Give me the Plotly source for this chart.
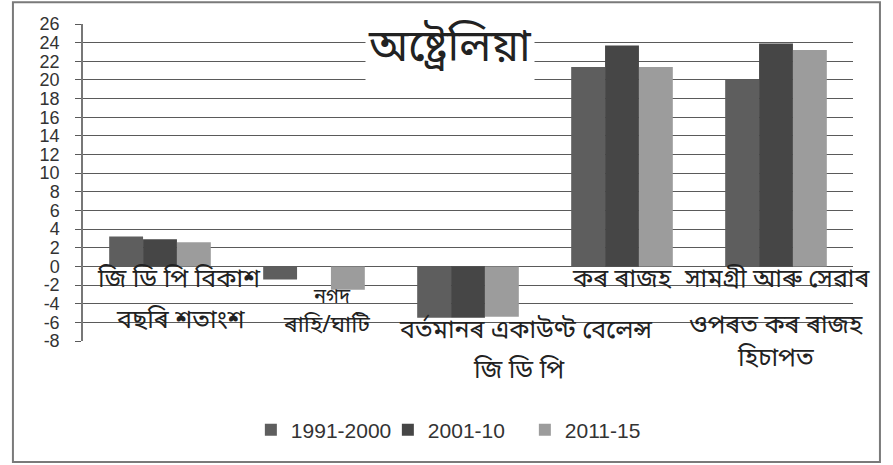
import plotly.graph_objects as go

# categories (x-axis groups)
categories = ["GDP", "CASH", "CAB", "TAX", "GST"]

# series values
series_names = ["1991-2000", "2001-10", "2011-15"]
vals_1991_2000 = [3.2, -1.4, -5.5, 21.4, 20.0]
vals_2001_10 = [2.9, None, -5.5, 23.7, 23.9]
vals_2011_15 = [2.6, -2.5, -5.4, 21.4, 23.2]

# y ticks (hyphen minus as in the source)
tick_vals = list(range(-8, 27, 2))
tick_text = [str(v) for v in tick_vals]

# category label text (Assamese), one entry per printed line
label_cats = ["GDP", "GDP", "CASH", "CASH", "CAB", "CAB", "TAX", "GST", "GST", "GST"]
label_text = ["জি ডি পি বিকাশ", "বছৰি শতাংশ", "নগদ", "ৰাহি/ঘাটি",
              "বৰ্তমানৰ একাউণ্ট বেলেন্স", "জি ডি পি", "কৰ ৰাজহ",
              "সামগ্ৰী আৰু সেৱাৰ", "ওপৰত কৰ ৰাজহ", "হিচাপত"]
title_text = "অষ্ট্ৰেলিয়া"

# placement of each label line: (paper y, x shift px, font size)
label_place = [(0.190, 19, 25), (0.060, 20, 25), (0.135, 18, 20), (0.046, 12, 23),
               (0.030, 57, 25), (-0.097, 51, 25), (0.190, 0, 25),
               (0.190, 1, 25), (0.047, 0, 25), (-0.057, -1, 25)]

colors = ["#5e5e5e", "#464646", "#9c9c9c"]
bn_font = "Noto Sans Bengali, Lohit Assamese, Lohit Bengali, Noto Sans, sans-serif"

fig = go.Figure()
for name, vals, c in zip(series_names, [vals_1991_2000, vals_2001_10, vals_2011_15], colors):
    fig.add_trace(go.Bar(x=categories, y=vals, name=name, marker=dict(color=c, line=dict(width=0))))

for cat, txt, (yp, dx, fs) in zip(label_cats, label_text, label_place):
    fig.add_annotation(x=cat, y=yp, xref="x", yref="paper", text=txt, showarrow=False,
                       xanchor="center", yanchor="middle", xshift=dx,
                       font=dict(family=bn_font, size=fs, color="#222"))

# title
fig.add_annotation(x=0.477, y=0.918, xref="paper", yref="paper", text=title_text,
                   showarrow=False, xanchor="center", yanchor="middle",
                   bgcolor="white", borderpad=2,
                   font=dict(family=bn_font, size=44, color="#222"))

# outer frame
fig.add_shape(type="rect", xref="paper", yref="paper", x0=-0.091, x1=1.035, y0=-0.382, y1=1.069,
              line=dict(color="#7a7a7a", width=2))

fig.update_layout(
    width=893, height=465,
    margin=dict(l=83, r=40, t=24, b=124),
    paper_bgcolor="white", plot_bgcolor="white",
    barmode="group", bargap=0.34, bargroupgap=0,
    font=dict(family="Liberation Sans, Arial, sans-serif", color="#333"),
    showlegend=True,
    legend=dict(orientation="h", x=0.218, xanchor="left", y=-0.281, yanchor="middle",
                font=dict(size=21, color="#333"), itemwidth=30, entrywidth=92,
                traceorder="normal"),
    # fixed range: annotations tied to the x axis would otherwise widen it
    xaxis=dict(range=[-0.5, len(categories) - 0.5], showticklabels=False, showgrid=False,
               zeroline=False, showline=False, ticks=""),
    yaxis=dict(range=[-8, 26], tickvals=tick_vals, ticktext=tick_text,
               showgrid=True, gridcolor="#5a5a5a", gridwidth=1.3,
               zeroline=True, zerolinecolor="#5a5a5a", zerolinewidth=1.3,
               showline=True, linecolor="#777", linewidth=1.5,
               ticks="outside", ticklen=6, tickcolor="#5a5a5a", ticklabelstandoff=12,
               tickfont=dict(size=18, color="#333")),
)

# drop the browser's default body margin so the figure sits at the page corner
fig.write_html("out.html", config={"displayModeBar": False},
               post_script="document.body.style.margin='0';document.body.style.overflow='hidden';")
